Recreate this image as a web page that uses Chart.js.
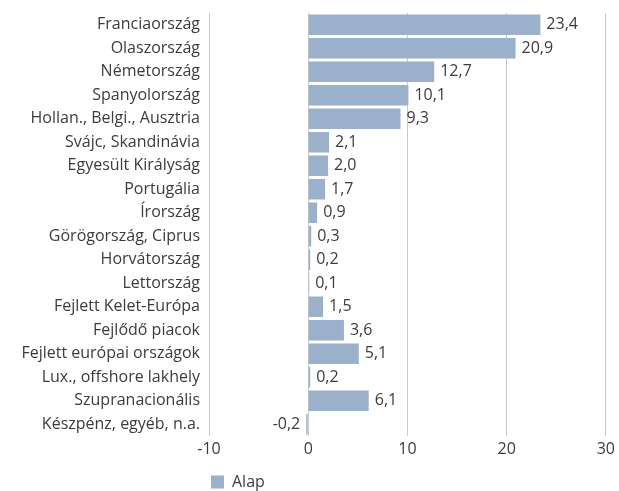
<!DOCTYPE html>
<html>
<head>
<meta charset="utf-8">
<script src="https://cdn.jsdelivr.net/npm/chart.js@4.4.1/dist/chart.umd.min.js"></script>
<style>
    html, body { margin: 0; padding: 0; background: #fff; }
    #wrap { position: relative; width: 619px; height: 491px; }
</style>
</head>
<body>
<div id="wrap"><canvas id="chart"></canvas></div>
<script>
// --- Data ---
const categories = [
    "Franciaország",
    "Olaszország",
    "Németország",
    "Spanyolország",
    "Hollan., Belgi., Ausztria",
    "Svájc, Skandinávia",
    "Egyesült Királyság",
    "Portugália",
    "Írország",
    "Görögország, Ciprus",
    "Horvátország",
    "Lettország",
    "Fejlett Kelet-Európa",
    "Fejlődő piacok",
    "Fejlett európai országok",
    "Lux., offshore lakhely",
    "Szupranacionális",
    "Készpénz, egyéb, n.a.",
];
const alapValues = [23.4, 20.9, 12.7, 10.1, 9.3, 2.1, 2.0, 1.7, 0.9, 0.3, 0.2, 0.1, 1.5, 3.6, 5.1, 0.2, 6.1, -0.2];
const seriesName = "Alap";
const xMin = -10;
const xMax = 30;

const textColor = "#3c3c3c";
const fontFamily = "'Open Sans', 'Noto Sans', sans-serif";
const fontSize = 16;

function fmt(v) {
    return v.toFixed(1).replace(".", ",");
}

// value labels at the bar ends
const valueLabels = {
    id: "valueLabels",
    afterDatasetsDraw(chart) {
        const ctx = chart.ctx;
        const meta = chart.getDatasetMeta(0);
        ctx.save();
        ctx.font = fontSize + "px " + fontFamily;
        ctx.fillStyle = textColor;
        ctx.textBaseline = "middle";
        meta.data.forEach((bar, i) => {
            const v = chart.data.datasets[0].data[i];
            if (v < 0) {
                ctx.textAlign = "right";
                ctx.fillText(fmt(v), bar.x - 6, bar.y);
            } else {
                ctx.textAlign = "left";
                ctx.fillText(fmt(v), bar.x + 6, bar.y);
            }
        });
        ctx.restore();
    },
};

new Chart(document.getElementById("chart").getContext("2d"), {
    type: "bar",
    data: {
        labels: categories,
        datasets: [
            {
                label: seriesName,
                data: alapValues,
                backgroundColor: "#9bb0ca",
                borderWidth: 0,
                barPercentage: 0.88,
                categoryPercentage: 1,
                minBarLength: 1,
            },
        ],
    },
    options: {
        indexAxis: "y",
        responsive: true,
        maintainAspectRatio: false,
        animation: false,
        // negative bottom: pushes the legend's empty lower strip off the canvas
        layout: { padding: { top: 13, right: 10, left: 0, bottom: -9 } },
        scales: {
            x: {
                min: xMin,
                max: xMax,
                ticks: {
                    stepSize: 10,
                    color: textColor,
                    font: { family: fontFamily, size: fontSize },
                    padding: 4,
                },
                grid: { color: "#c8c8c8", drawTicks: false },
                border: { display: false },
                afterFit(scale) {
                    scale.height = 36;
                },
            },
            y: {
                ticks: {
                    color: textColor,
                    font: { family: fontFamily, size: fontSize },
                    padding: 9,
                },
                grid: { display: false, drawTicks: false },
                border: { display: false },
                afterFit(scale) {
                    scale.width = 209;
                    scale.paddingTop = 0;
                    scale.paddingBottom = 0;
                },
            },
        },
        plugins: {
            legend: {
                position: "bottom",
                align: "start",
                fullSize: false,
                labels: {
                    color: textColor,
                    font: { family: fontFamily, size: fontSize },
                    boxWidth: 13,
                    boxHeight: 13,
                    padding: 2,
                },
            },
            tooltip: { enabled: false },
        },
    },
    plugins: [valueLabels],
});
</script>
</body>
</html>
